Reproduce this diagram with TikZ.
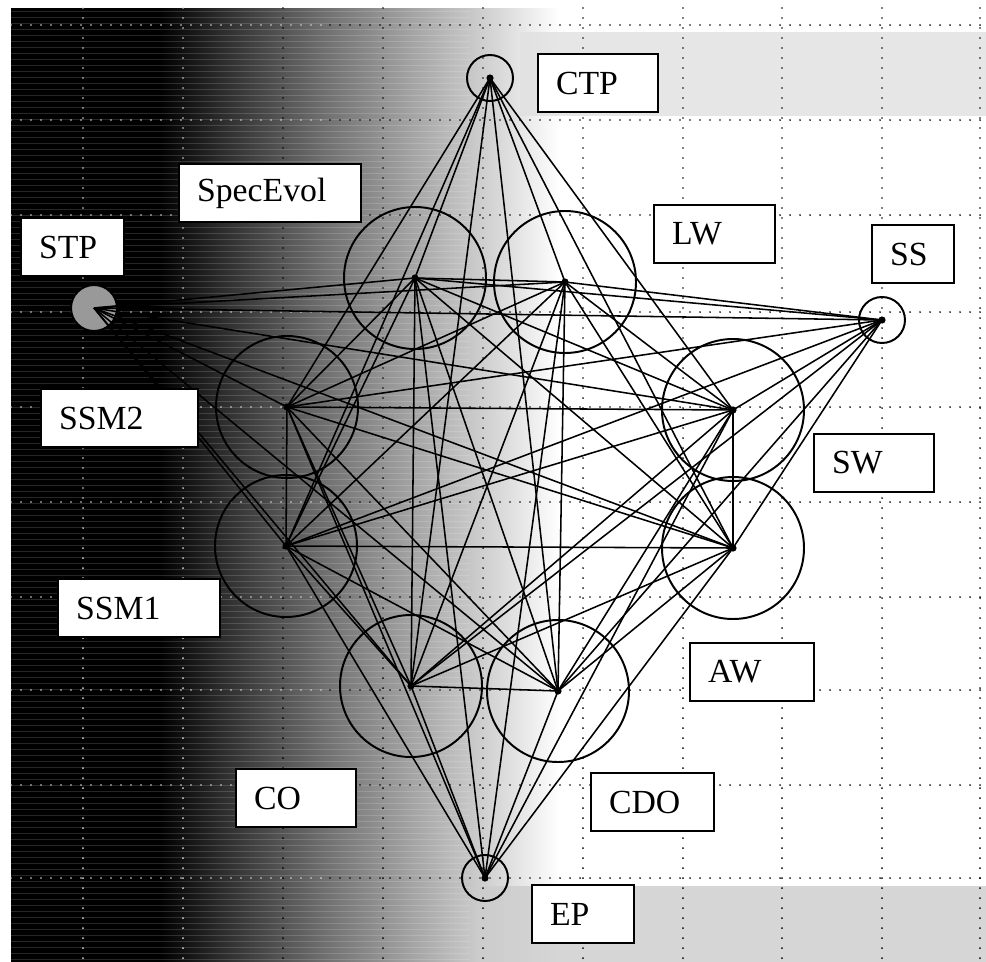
\documentclass[tikz,border=0pt]{standalone}
\usepackage{fontspec}
\setmainfont{Liberation Serif}
\usepackage{tikz}

\pgfdeclarehorizontalshading{scanfade}{100bp}{color(0bp)=(black); color(25bp)=(black); color(38.5bp)=(black); color(45bp)=(black!80); color(54bp)=(black!55); color(63bp)=(black!32); color(69.5bp)=(black!15); color(75bp)=(white); color(100bp)=(white)}

\tikzset{
  bigring/.style={circle,draw,line width=1.4pt,minimum size=35.5mm,inner sep=0pt,
    path picture={\fill (path picture bounding box.center) circle (0.9mm);}},
  smallring/.style={bigring,minimum size=11.5mm},
  tag/.style={draw,fill=white,line width=1.5pt,anchor=north west,align=left,
    inner xsep=4.5mm,inner ysep=0pt,minimum height=14.5mm,font=\fontsize{24}{24}\selectfont},
  link/.style={line width=1.1pt},
  gridline/.style={line width=1.4pt,dash pattern=on 0pt off 2.5mm,line cap=round}
}

\begin{document}
\begin{tikzpicture}[x=0.25mm,y=-0.25mm]
\useasboundingbox (0,0) rectangle (986,962);

% scanned background
\fill[white] (11,8) rectangle (986,962);
\shade[shading=scanfade] (11,8) rectangle (560,962);
\fill[black!12,opacity=.8] (520,32) rectangle (986,116);
\fill[black!20,opacity=.8] (480,886) rectangle (986,962);
\foreach \y in {11,17,...,959}
  \draw[white,opacity=.15,line width=.5pt] (11,\y) -- (470,\y);

% dotted grid
\foreach \y in {25,120,215,312,407,502,597,690,785,878} {
  \draw[gridline,white!85!black] (11,\y) -- (330,\y);
  \draw[gridline] (330,\y) -- (986,\y);
}
\foreach \x in {83,183}
  \draw[gridline,white!85!black] (\x,8) -- (\x,962);
\foreach \x in {283,383,483,583,683,782,882,980}
  \draw[gridline] (\x,8) -- (\x,962);

% components
\node[smallring] (ctp) at (490,78) {};
\node[smallring,fill=black!40] (stp) at (94,308) {};
\node[smallring] (ss) at (882,320) {};
\node[smallring] (ep) at (485,878) {};
\node[bigring] (specevol) at (415,278) {};
\node[bigring] (lw) at (565,282) {};
\node[bigring] (ssm2) at (287,407) {};
\node[bigring] (sw) at (733,410) {};
\node[bigring] (ssm1) at (286,546) {};
\node[bigring] (aw) at (733,548) {};
\node[bigring] (co) at (411,686) {};
\node[bigring] (cdo) at (558,691) {};

% every pair of inner components
\foreach \a/\b in {specevol/lw,specevol/ssm2,specevol/sw,specevol/ssm1,specevol/aw,specevol/co,specevol/cdo,
    lw/ssm2,lw/sw,lw/ssm1,lw/aw,lw/co,lw/cdo,
    ssm2/sw,ssm2/ssm1,ssm2/aw,ssm2/co,ssm2/cdo,
    sw/ssm1,sw/aw,sw/co,sw/cdo,
    ssm1/aw,ssm1/co,ssm1/cdo,
    aw/co,aw/cdo,
    co/cdo}
  \draw[link] (\a.center) -- (\b.center);

% end points to every inner component
\foreach \t in {ctp,ep,stp,ss}
  \foreach \b in {specevol,lw,ssm2,sw,ssm1,aw,co,cdo}
    \draw[link] (\t.center) -- (\b.center);
\draw[link] (stp.center) -- (ss.center);

% labels
\node[tag,text width=21mm] (ctplab) at (537,53) {CTP};
\node[tag,text width=36.5mm] (specevollab) at (178,163) {SpecEvol};
\node[tag,text width=16.75mm] (stplab) at (20,217) {STP};
\node[tag,text width=21.25mm] (lwlab) at (653,204) {LW};
\node[tag,text width=11.5mm] (sslab) at (871,224) {SS};
\node[tag,text width=30.25mm] (ssm2lab) at (40,388) {SSM2};
\node[tag,text width=21mm] (swlab) at (813,433) {SW};
\node[tag,text width=31.5mm] (ssm1lab) at (57,578) {SSM1};
\node[tag,text width=22mm] (awlab) at (689,642) {AW};
\node[tag,text width=21mm] (colab) at (235,768) {CO};
\node[tag,text width=21.75mm] (cdolab) at (590,772) {CDO};
\node[tag,text width=16.5mm] (eplab) at (531,884) {EP};
\end{tikzpicture}
\end{document}
